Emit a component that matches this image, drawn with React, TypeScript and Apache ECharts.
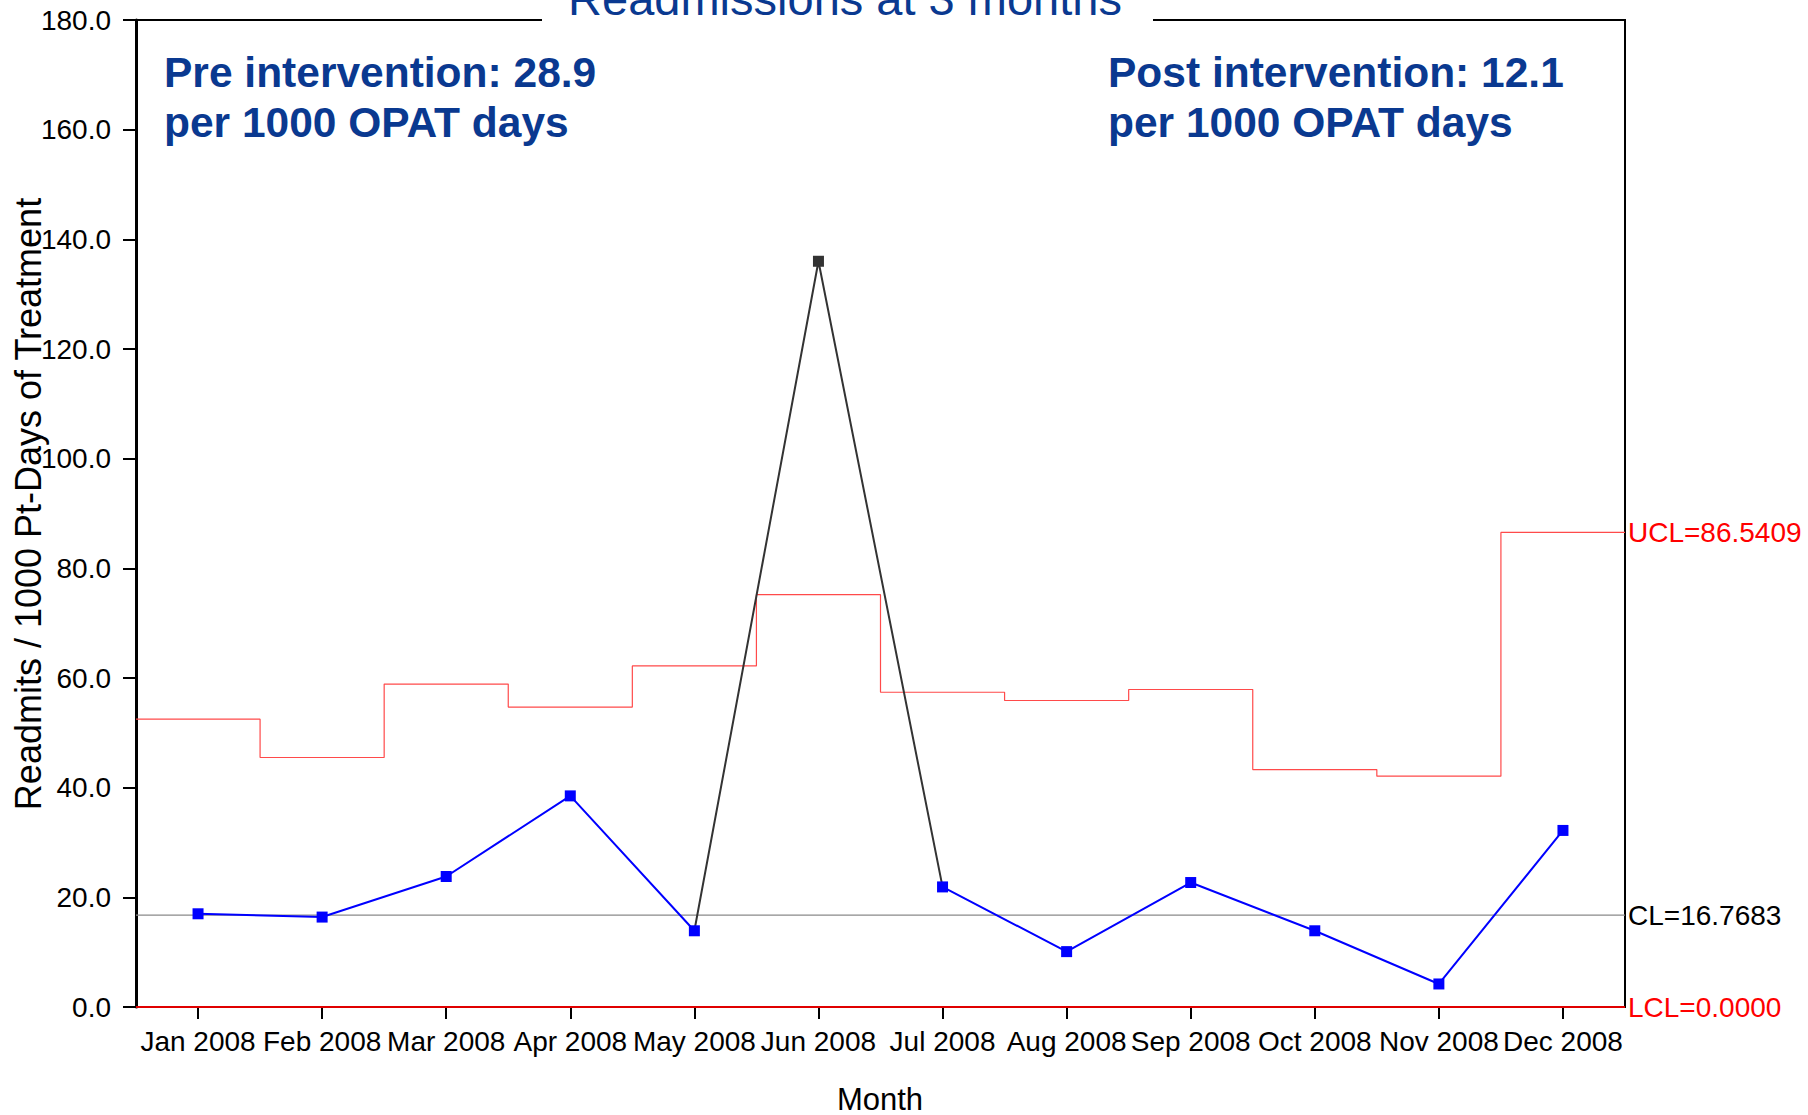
import React, { useEffect, useRef } from "react";
import * as echarts from "echarts";

const months = ["Jan 2008", "Feb 2008", "Mar 2008", "Apr 2008", "May 2008", "Jun 2008", "Jul 2008", "Aug 2008", "Sep 2008", "Oct 2008", "Nov 2008", "Dec 2008"];
const rates = [17.0, 16.4, 23.8, 38.5, 13.9, 136.0, 21.9, 10.1, 22.7, 13.9, 4.2, 32.2];
const outOfControl = [false, false, false, false, false, true, false, false, false, false, false, false];
const ucl = [52.5, 45.5, 58.9, 54.7, 62.2, 75.2, 57.4, 55.9, 57.9, 43.3, 42.1, 86.5409];
const clValue = 16.7683;
const lclValue = 0;
const yMin = 0;
const yMax = 180;
const yInterval = 20;
const titleText = "Readmissions at 3 months";
const preText = ["Pre intervention: 28.9", "per 1000 OPAT days"];
const postText = ["Post intervention: 12.1", "per 1000 OPAT days"];
const yName = "Readmits / 1000 Pt-Days of Treatment";
const xName = "Month";

const FONT = "'Liberation Sans', Arial, sans-serif";
const BLUE_TEXT = "#0a3990";

export default function App() {
  const ref = useRef<HTMLDivElement>(null);
  useEffect(() => {
    if (!ref.current) return;
    const chart = echarts.init(ref.current, null, { renderer: "svg" });

    const blueData = rates.map((v, i) => (outOfControl[i] ? "-" : v));
    const darkData = rates.map((v, i) => {
      const near = outOfControl[i] || outOfControl[i - 1] || outOfControl[i + 1];
      if (!near) return "-";
      if (outOfControl[i]) return v;
      return { value: v, symbol: "none" };
    });
    const uclSteps: number[][] = [];
    ucl.forEach((v, i) => {
      uclSteps.push([i, v]);
      uclSteps.push([i + 1, v]);
    });
    const n = months.length;

    chart.setOption({
      animation: false,
      backgroundColor: "#ffffff",
      grid: {
        left: 136,
        right: 183,
        top: 20,
        bottom: 108,
        show: true,
        borderColor: "#000",
        borderWidth: 2,
        backgroundColor: "transparent",
      },
      xAxis: [
        {
          type: "category",
          data: months,
          boundaryGap: true,
          axisLine: { show: true, lineStyle: { color: "#000", width: 2 } },
          axisTick: { show: true, alignWithLabel: true, length: 12, lineStyle: { color: "#000", width: 2 } },
          axisLabel: { color: "#000", fontSize: 28, fontFamily: FONT, margin: 20, interval: 0 },
          splitLine: { show: false },
        },
        {
          type: "value",
          min: 0,
          max: n,
          show: false,
        },
      ],
      yAxis: {
        type: "value",
        min: yMin,
        max: yMax,
        interval: yInterval,
        axisLine: { show: true, lineStyle: { color: "#000", width: 3 } },
        axisTick: { show: true, length: 13, lineStyle: { color: "#000", width: 2 } },
        axisLabel: {
          color: "#000",
          fontSize: 28,
          fontFamily: FONT,
          margin: 25,
          formatter: (v: number) => v.toFixed(1),
        },
        splitLine: { show: false },
      },
      series: [
        {
          name: "CL",
          type: "line",
          xAxisIndex: 1,
          data: [[0, clValue], [n, clValue]],
          symbol: "none",
          lineStyle: { color: "#8a8a8a", width: 1.2 },
          endLabel: {
            show: true,
            formatter: "CL=" + clValue.toFixed(4),
            color: "#000",
            fontSize: 28,
            fontFamily: FONT,
            distance: 3,
          },
          z: 2,
        },
        {
          name: "UCL",
          type: "line",
          xAxisIndex: 1,
          data: uclSteps,
          symbol: "none",
          lineStyle: { color: "#ff4a4a", width: 1.2 },
          endLabel: {
            show: true,
            formatter: "UCL=" + ucl[ucl.length - 1].toFixed(4),
            color: "#ff0000",
            fontSize: 28,
            fontFamily: FONT,
            distance: 3,
          },
          z: 2,
        },
        {
          name: "LCL",
          type: "line",
          xAxisIndex: 1,
          data: [[0, lclValue], [n, lclValue]],
          symbol: "none",
          lineStyle: { color: "#e00000", width: 2 },
          endLabel: {
            show: true,
            formatter: "LCL=" + lclValue.toFixed(4),
            color: "#ff0000",
            fontSize: 28,
            fontFamily: FONT,
            distance: 3,
          },
          z: 3,
        },
        {
          name: "Out",
          type: "line",
          data: darkData,
          symbol: "rect",
          symbolSize: 11,
          connectNulls: false,
          lineStyle: { color: "#333333", width: 2 },
          itemStyle: { color: "#333333" },
          z: 4,
        },
        {
          name: "Rate",
          type: "line",
          data: blueData,
          symbol: "rect",
          symbolSize: 11,
          connectNulls: false,
          lineStyle: { color: "#0000ff", width: 2 },
          itemStyle: { color: "#0000ff" },
          z: 5,
        },
      ],
      graphic: [
        {
          type: "rect",
          shape: { x: 542, y: 0, width: 611, height: 24 },
          style: { fill: "#ffffff" },
          z: 100,
        },
        {
          type: "text",
          x: 845,
          y: -2,
          z: 101,
          style: {
            text: titleText,
            fill: BLUE_TEXT,
            font: "47px " + FONT,
            textAlign: "center",
            textVerticalAlign: "middle",
          },
        },
        {
          type: "text",
          x: 164,
          y: 72,
          z: 101,
          style: {
            text: preText[0],
            fill: BLUE_TEXT,
            font: "bold 42.5px " + FONT,
            textAlign: "left",
            textVerticalAlign: "middle",
          },
        },
        {
          type: "text",
          x: 164,
          y: 122,
          z: 101,
          style: {
            text: preText[1],
            fill: BLUE_TEXT,
            font: "bold 42.5px " + FONT,
            textAlign: "left",
            textVerticalAlign: "middle",
          },
        },
        {
          type: "text",
          x: 1108,
          y: 72,
          z: 101,
          style: {
            text: postText[0],
            fill: BLUE_TEXT,
            font: "bold 42.5px " + FONT,
            textAlign: "left",
            textVerticalAlign: "middle",
          },
        },
        {
          type: "text",
          x: 1108,
          y: 122,
          z: 101,
          style: {
            text: postText[1],
            fill: BLUE_TEXT,
            font: "bold 42.5px " + FONT,
            textAlign: "left",
            textVerticalAlign: "middle",
          },
        },
        {
          type: "text",
          x: 28,
          y: 504,
          rotation: Math.PI / 2,
          z: 101,
          style: {
            text: yName,
            fill: "#000",
            font: "36px " + FONT,
            textAlign: "center",
            textVerticalAlign: "middle",
          },
        },
        {
          type: "text",
          x: 880,
          y: 1099,
          z: 101,
          style: {
            text: xName,
            fill: "#000",
            font: "31px " + FONT,
            textAlign: "center",
            textVerticalAlign: "middle",
          },
        },
      ],
    });
    return () => chart.dispose();
  }, []);

  return (
    <div
      ref={ref}
      style={{ position: "fixed", left: 0, top: 0, width: 1808, height: 1115, background: "#fff" }}
    />
  );
}
